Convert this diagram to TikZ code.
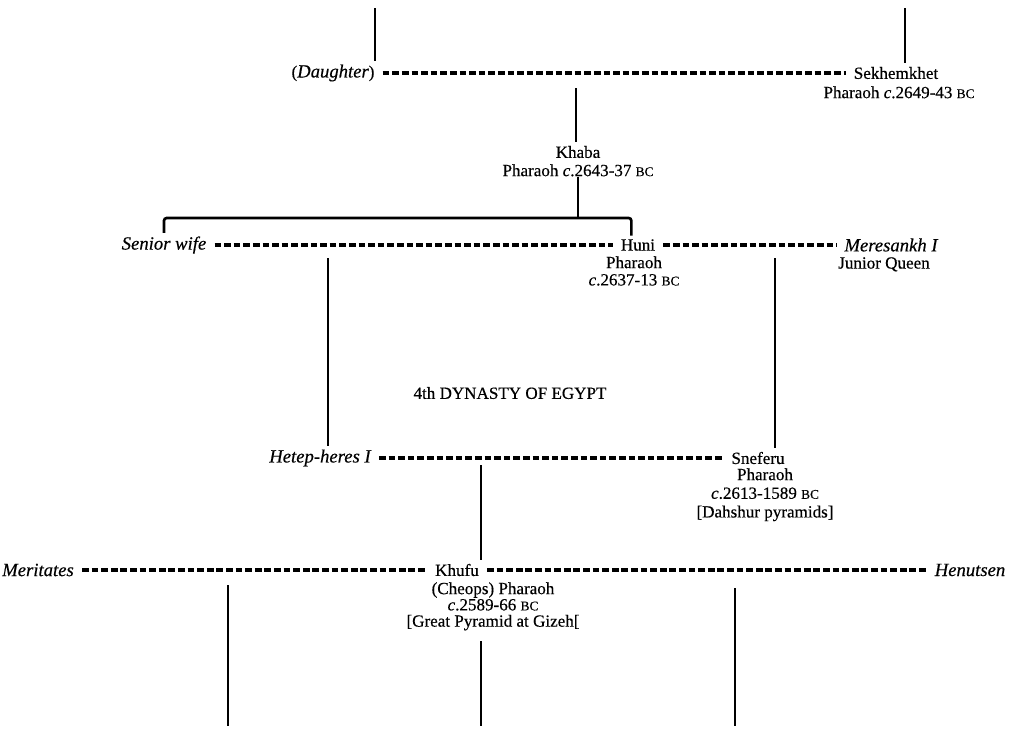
\documentclass[tikz,border=0pt]{standalone}
\usepackage{fontspec}
\setmainfont{Liberation Serif}[
  UprightFeatures={FakeBold=0.4},
  ItalicFeatures={FakeBold=0.4}]
\newcommand{\bcsc}{{\fontsize{10}{11}\selectfont BC}}
\newcommand{\wifename}[1]{{\fontsize{14}{16}\selectfont\itshape #1}}
\begin{document}
\begin{tikzpicture}[x=0.75pt,y=-0.75pt,
  every node/.style={font=\fontsize{12.8}{14}\selectfont, inner ysep=0.5pt, inner xsep=6pt},
  lbl/.style={inner sep=0pt, anchor=north, align=center},
  descent/.style={line width=2pt, line cap=butt},
  marriage/.style={line width=2.5pt, dash pattern=on 5pt off 2.2pt},
  bracket/.style={line width=2pt, rounded corners=2pt}]
\useasboundingbox (0,0) rectangle (1019,728);

% --- top generation
\node (daughter) at (333,73) {(\wifename{Daughter})};
\node (sekh) at (896,73) {Sekhemkhet};
\node[lbl] (sekhT) at (899,86) {Pharaoh \textit{c}.2649-43 \bcsc};
\coordinate (ta) at (375,8);
\coordinate (tb) at (905,8);
\draw[descent] (ta) -- ([yshift=2pt]ta |- daughter.north);
\draw[descent] (tb) -- ([yshift=2pt]tb |- sekh.north);
\draw[marriage] (daughter.east) -- (sekh.west);

% --- Khaba
\node (khaba) at (578,152) {Khaba};
\node[lbl] (khabaT) at (578,164) {Pharaoh \textit{c}.2643-37 \bcsc};
\coordinate (m1) at (576,88);
\draw[descent] (m1) -- ([yshift=2pt]m1 |- khaba.north);

% --- Huni and his wives
\node (senior) at (164,245) {\wifename{Senior wife}};
\node (huni) at (638,245) {Huni};
\node[lbl, font=\fontsize{12.8}{13}\selectfont] (huniT) at (634,256) {Pharaoh\\\textit{c}.2637-13 \bcsc};
\node (meres) at (891,245) {\wifename{Meresankh I}};
\node[lbl] (meresT) at (884,257) {Junior Queen};
\coordinate (br) at (578,218);
\draw[descent] (khabaT.south) -- (br);
\draw[bracket] ([yshift=2pt]senior.north) |- (br) -| ([xshift=-5pt,yshift=2pt]huni.north);
\draw[marriage] (senior.east) -- (huni.west);
\draw[marriage] (huni.east) -- (meres.west);

\node (title) at (510,393) {4th DYNASTY OF EGYPT};

% --- Sneferu generation
\node (hetep) at (320,458) {\wifename{Hetep-heres I}};
\node (snef) at (758,458) {Sneferu};
\node[lbl, font=\fontsize{12.8}{14}\selectfont] (snefT) at (765,468) {Pharaoh\\\textit{c}.2613-1589 \bcsc\\{}[Dahshur pyramids]};
\coordinate (h1) at (328,258);
\coordinate (h2) at (775,258);
\draw[descent] (h1) -- ([yshift=2pt]h1 |- hetep.north);
\draw[descent] (h2) -- ([yshift=2pt]h2 |- snef.north);
\draw[marriage] (hetep.east) -- (snef.west);

% --- Khufu generation
\node (merit) at (38,570) {\wifename{Meritates}};
\node (khufu) at (457,570) {Khufu};
\node (henut) at (970,570) {\wifename{Henutsen}};
\node[lbl, font=\fontsize{12.8}{12.2}\selectfont] (khufuT) at (493,582) {(Cheops) Pharaoh\\\textit{c}.2589-66 \bcsc\\{}[Great Pyramid at Gizeh[};
\coordinate (s1) at (481,465);
\draw[descent] (s1) -- ([yshift=2pt]s1 |- khufu.north);
\draw[marriage] (merit.east) -- (khufu.west);
\draw[marriage] (khufu.east) -- (henut.west);

% --- lines to the next generation
\coordinate (k1) at (228,585);
\coordinate (k3) at (735,588);
\coordinate (b1) at (228,726);
\coordinate (b2) at (481,726);
\coordinate (b3) at (735,726);
\draw[descent] (k1) -- (b1);
\draw[descent] ([yshift=-8pt]khufuT.south -| b2) -- (b2);
\draw[descent] (k3) -- (b3);
\end{tikzpicture}
\end{document}
